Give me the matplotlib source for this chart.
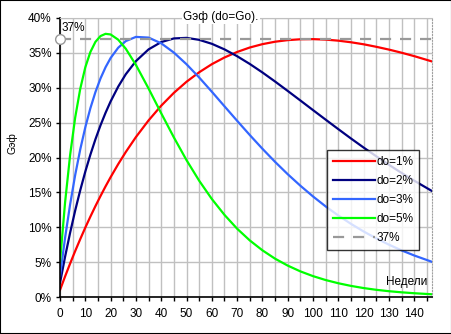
import matplotlib
matplotlib.use('Agg')
import matplotlib.pyplot as plt
from matplotlib.ticker import MultipleLocator, FuncFormatter
from matplotlib.patches import Rectangle

# weeks and Gэф values (%)
weeks = [0, 2, 4, 6, 8, 10, 12, 14, 16, 18, 20, 23, 26, 30, 35, 40, 45, 50, 55, 60,
         65, 70, 75, 80, 85, 90, 95, 100, 105, 110, 115, 120, 125, 130, 135, 140, 147]

g_do1 = [1.00, 2.94, 4.80, 6.59, 8.30, 9.95, 11.52, 13.03, 14.47, 15.86, 17.18, 19.05,
         20.79, 22.93, 25.32, 27.43, 29.27, 30.86, 32.22, 33.38, 34.34, 35.13, 35.77,
         36.25, 36.60, 36.83, 36.95, 36.97, 36.90, 36.75, 36.52, 36.23, 35.87, 35.47,
         35.02, 34.53, 33.77]
g_do2 = [2.00, 5.76, 9.22, 12.40, 15.31, 17.98, 20.40, 22.61, 24.61, 26.41, 28.04, 30.16,
         31.94, 33.82, 35.50, 36.55, 37.07, 37.15, 36.87, 36.30, 35.50, 34.52, 33.41,
         32.19, 30.89, 29.54, 28.17, 26.79, 25.42, 24.06, 22.72, 21.42, 20.17, 18.95,
         17.78, 16.67, 15.19]
g_do3 = [3.00, 8.47, 13.28, 17.49, 21.16, 24.33, 27.06, 29.38, 31.33, 32.94, 34.26, 35.74,
         36.69, 37.29, 37.19, 36.37, 35.04, 33.37, 31.47, 29.43, 27.34, 25.26, 23.22,
         21.25, 19.37, 17.60, 15.95, 14.41, 12.98, 11.68, 10.48, 9.39, 8.40, 7.50,
         6.68, 5.95, 5.04]
g_do5 = [5.00, 13.54, 20.36, 25.73, 29.85, 32.93, 35.12, 36.58, 37.41, 37.73, 37.64, 36.89,
         35.59, 33.27, 29.89, 26.34, 22.88, 19.62, 16.67, 14.05, 11.77, 9.79, 8.11,
         6.69, 5.49, 4.50, 3.67, 2.99, 2.43, 1.97, 1.59, 1.28, 1.03, 0.83,
         0.67, 0.54, 0.39]
ref_level = 37

plt.rcParams['font.family'] = ['Liberation Sans', 'DejaVu Sans']
plt.rcParams['font.size'] = 8.5

fig = plt.figure(figsize=(4.52, 3.34), dpi=100)
fig.patches.append(Rectangle((0, 0), 1, 1, transform=fig.transFigure, fill=False,
                             edgecolor='black', linewidth=1.5))
ax = fig.add_axes([60 / 452, 37 / 334, 372 / 452, 279 / 334])

ax.plot(weeks, g_do1, color='#ff0000', lw=1.6, label='do=1%')
ax.plot(weeks, g_do2, color='#000080', lw=1.6, label='do=2%')
ax.plot(weeks, g_do3, color='#3366ff', lw=1.6, label='do=3%')
ax.plot(weeks, g_do5, color='#00ff00', lw=1.6, label='do=5%')
ax.plot([0, 147], [ref_level, ref_level], color='#999999', lw=1.6,
        dashes=(5, 4), label='37%')
ax.plot([0], [ref_level], marker='o', ms=7, mfc='white', mec='#999999', mew=1,
        clip_on=False, zorder=5)

ax.set_xlim(0, 147)
ax.set_ylim(0, 40)
ax.xaxis.set_major_locator(MultipleLocator(10))
ax.xaxis.set_minor_locator(MultipleLocator(5))
ax.yaxis.set_major_locator(MultipleLocator(5))
ax.yaxis.set_major_formatter(FuncFormatter(lambda v, p: f'{v:.0f}%'))
ax.grid(True, which='both', color='#c0c0c0', lw=1)
ax.set_axisbelow(True)
ax.tick_params(which='both', direction='out', length=3, width=1, pad=3)
ax.tick_params(axis='x', pad=5)

ax.spines['top'].set_color('#c0c0c0')
ax.spines['right'].set_color('#a0a0a0')
ax.spines['right'].set_linestyle(':')
ax.spines['left'].set_linewidth(1.2)
ax.spines['bottom'].set_linewidth(1.2)

ax.set_ylabel('Gэф', fontsize=7.5)
ax.yaxis.set_label_coords(-0.115, 0.55)
ax.text(63.5, 40.2, 'Gэф (do=Go).', ha='center', va='center',
        bbox=dict(facecolor='white', edgecolor='none', pad=1))
ax.text(0.8, 37.7, '37%', ha='left', va='bottom')
ax.text(145, 1.3, 'Недели', ha='right', va='bottom')

leg = ax.legend(loc='upper left', bbox_to_anchor=(327 / 452, 1 - 150 / 334),
                bbox_transform=fig.transFigure, frameon=True, fancybox=False,
                edgecolor='black', handlelength=3.6, handletextpad=0.1,
                labelspacing=0.6, borderpad=0.5, borderaxespad=0)
leg.get_frame().set_linewidth(1)

fig.savefig('out.png', dpi=100)
